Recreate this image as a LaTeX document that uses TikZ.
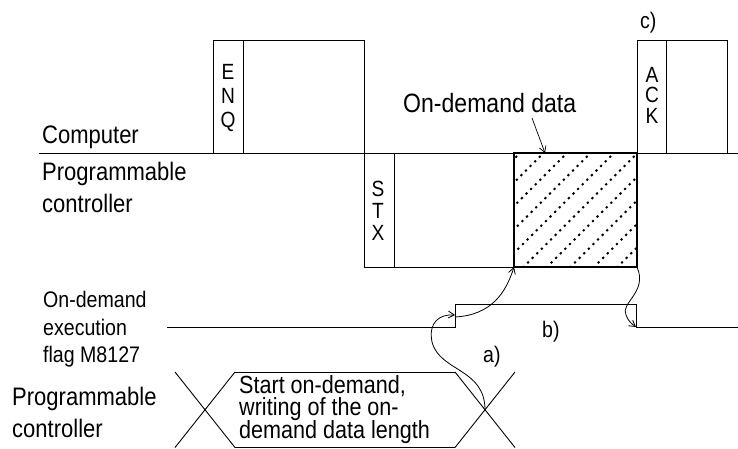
\documentclass[tikz,border=0pt]{standalone}
\usepackage{fontspec}
\setmainfont{Liberation Sans}[FakeStretch=0.87]
\usetikzlibrary{arrows.meta}
\begin{document}
\begin{tikzpicture}[x=1pt,y=-1pt,
  sig/.style={line width=0.9pt,black},
  lbl/.style={inner sep=0pt,anchor=base west,font=\fontsize{22.5}{28}\selectfont},
  big/.style={inner sep=0pt,anchor=base west,font=\fontsize{25.3}{28}\selectfont},
  hex/.style={inner sep=0pt,anchor=base west,font=\fontsize{24.8}{28}\selectfont},
  letter/.style={inner sep=0pt,anchor=base,font=\fontsize{22}{24}\selectfont},
  curvearrow/.style={line width=0.8pt,-{Straight Barb[length=6pt,width=7pt]}},
  hatch/.style={line width=1.8pt,dash pattern=on 2.2pt off 4.3pt}
]
\useasboundingbox (0,0) rectangle (738,448);

% ---------- coordinates ----------
\coordinate (enqBL) at (213,153);
\coordinate (enqTL) at (213,40);
\coordinate (enqTR) at (364,40);
\coordinate (stxBL) at (364,267);
\coordinate (datBL) at (514,267);
\coordinate (datTL) at (514,153);
\coordinate (datBR) at (637,267);
\coordinate (datTR) at (637,153);
\coordinate (datTop) at (545,153);
\coordinate (ackTL) at (637,40);
\coordinate (ackTR) at (727,40);
\coordinate (ackBR) at (727,153);
\coordinate (flagRise) at (455,315);
\coordinate (flagFall) at (636,327);
\coordinate (crossA) at (485,410);

% ---------- main line ----------
\draw[sig] (39,153) -- (738,153);

% ---------- ENQ ----------
\draw[sig] (enqBL) -- (enqTL) -- (enqTR) -- (stxBL) -- (datBL);
\draw[sig] (243,40) -- (243,153);
\node[letter] (e1) at (228,79) {E};
\node[letter] (e2) at (228,103) {N};
\node[letter] (e3) at (228,127) {Q};

% ---------- STX ----------
\draw[sig] (394,153) -- (394,267);
\node[letter] (s1) at (378,196) {S};
\node[letter] (s2) at (378,218) {T};
\node[letter] (s3) at (378,240) {X};

% ---------- on-demand data (hatched) ----------
\begin{scope}
  \clip (datTL) rectangle (datBR);
  \foreach \k in {-6,...,6}{
    \draw[hatch] ({767+23.5*\k-300},300) -- ({767+23.5*\k-100},100);
  }
\end{scope}
\draw[line width=2.4pt] (datTL) rectangle (datBR);

% ---------- ACK ----------
\draw[sig] (datBR) -- (ackTL) -- (ackTR) -- (ackBR);
\draw[sig] (666,40) -- (666,153);
\node[letter] (a1) at (652,82) {A};
\node[letter] (a2) at (652,102.5) {C};
\node[letter] (a3) at (652,123) {K};

% ---------- flag M8127 ----------
\draw[sig] (167,327) -- (455,327) -- (455,304) -- (636,304) -- (636,327) -- (738,327);

% ---------- bottom hexagon ----------
\draw[sig] (175,372) -- (235,447.5) (175,447.5) -- (235,372);
\draw[sig] (235,372) -- (455,372) (235,447.5) -- (455,447.5);
\draw[sig] (455,372) -- (515,447.5) (455,447.5) -- (515,372);

% ---------- labels ----------
\node[big] (comp) at (42,143) {Computer};
\node[big] (pc1) at (42,180) {Programmable};
\node[big] (pc2) at (42,212) {controller};
\node[lbl] (f1) at (43,307) {On-demand};
\node[lbl] (f2) at (43,335) {execution};
\node[lbl] (f3) at (43,362) {flag M8127};
\node[big] (pb1) at (12,405) {Programmable};
\node[big] (pb2) at (12,437) {controller};
\node[hex] (h1) at (239,393) {Start on-demand,};
\node[hex] (h2) at (239,415.5) {writing of the on-};
\node[hex] (h3) at (239,438) {demand data length};
\node[inner sep=0pt,anchor=base west,font=\fontsize{26.5}{28}\selectfont] (odd) at (403,112) {On-demand data};
\node[lbl] (lc) at (640,28) {c)};
\node[lbl] (lb) at (542,337) {b)};
\node[lbl] (la) at (483,362) {a)};

% ---------- connectors ----------
\coordinate (oddTail) at (532,118);
\draw[line width=0.7pt,-{Straight Barb[length=6pt,width=7pt]}] (oddTail) -- (datTop);
\draw[curvearrow] (crossA) .. controls (485,368) and (440,372) .. (432,342)
      .. controls (428,322) and (440,314) .. (flagRise);
\draw[curvearrow] (455,317) .. controls (492,315) and (506,292) .. (datBL);
\draw[curvearrow] (datBR) .. controls (648,292) and (620,303) .. (626,315)
      .. controls (628,321) and (632,324) .. (flagFall);
\end{tikzpicture}
\end{document}
